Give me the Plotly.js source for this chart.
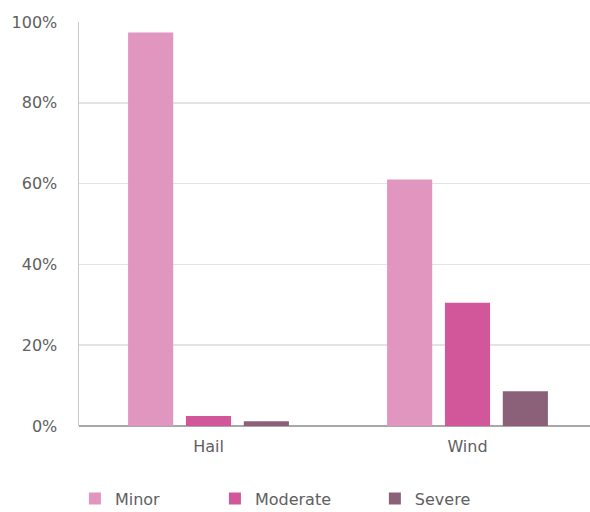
<!DOCTYPE html>
<html>
<head>
<meta charset="utf-8">
<script src="https://cdn.plot.ly/plotly-3.0.1.min.js"></script>
<style>html,body{margin:0;padding:0;background:#fff;}#chart{width:590px;height:512px;}</style>
</head>
<body>
<div id="chart"></div>
<script>
const categories = ["Hail", "Wind"];
const seriesNames = ["Minor", "Moderate", "Severe"];
const minorValues = [97.4, 61];
const moderateValues = [2.5, 30.5];
const severeValues = [1.2, 8.6];
const yTickValues = [0, 20, 40, 60, 80, 100];
const yTickLabels = ["0%", "20%", "40%", "60%", "80%", "100%"];
const colors = ["#e096be", "#d1579a", "#8b6079"];

const seriesValues = [minorValues, moderateValues, severeValues];
const legendIds = ["legend", "legend2", "legend3"];
const legendX = [-0.008, 0.266, 0.579];

const traces = seriesNames.map((name, i) => ({
  type: "bar",
  name: name,
  x: categories,
  y: seriesValues[i],
  marker: { color: colors[i] },
  legend: legendIds[i],
  hoverinfo: "skip"
}));

const font = { family: "'DejaVu Sans', sans-serif", size: 16, color: "#606060" };

const layout = {
  width: 590,
  height: 512,
  margin: { l: 79, r: 0, t: 22, b: 86 },
  paper_bgcolor: "#fff",
  plot_bgcolor: "#fff",
  barmode: "group",
  bargap: 0.33,
  bargroupgap: 0.22,
  font: font,
  showlegend: true,
  xaxis: {
    type: "category",
    range: [-0.5, 1.473],
    showgrid: false,
    showline: false,
    zeroline: false,
    ticks: "",
    tickfont: font,
    ticklabelstandoff: 9,
    fixedrange: true
  },
  yaxis: {
    range: [0, 100],
    tickvals: yTickValues,
    ticktext: yTickLabels,
    showgrid: true,
    gridcolor: "#e3e3e3",
    gridwidth: 1.5,
    showline: true,
    linecolor: "#c8c8c8",
    linewidth: 1.5,
    zeroline: true,
    zerolinecolor: "#a8a8a8",
    zerolinewidth: 2,
    ticks: "",
    tickfont: font,
    ticklabelstandoff: 17,
    fixedrange: true
  }
};

legendIds.forEach((id, i) => {
  layout[id] = {
    orientation: "h",
    x: legendX[i], xanchor: "left",
    yref: "container",
    y: 0.026, yanchor: "middle",
    font: font,
    bgcolor: "rgba(0,0,0,0)"
  };
});

Plotly.newPlot("chart", traces, layout, { displayModeBar: false, staticPlot: true });
</script>
</body>
</html>
